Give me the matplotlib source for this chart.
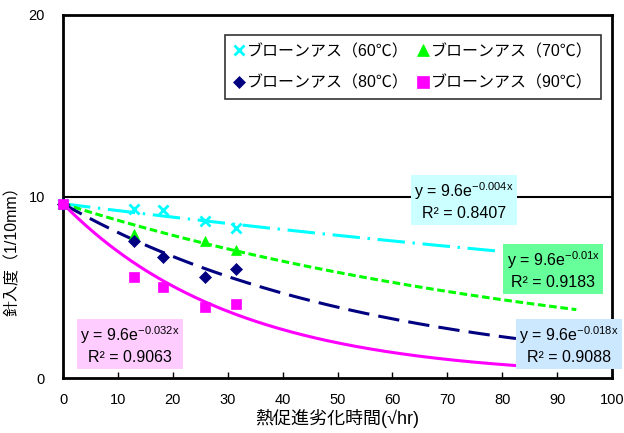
import numpy as np
import matplotlib
matplotlib.use("Agg")
import matplotlib.pyplot as plt

plt.rcParams['font.family'] = ['Liberation Sans', 'Noto Sans CJK JP', 'DejaVu Sans']
plt.rcParams['mathtext.fontset'] = 'custom'
plt.rcParams['mathtext.rm'] = 'Liberation Sans'
plt.rcParams['mathtext.it'] = 'Liberation Sans'
plt.rcParams['mathtext.default'] = 'rm'

# Data
x_sqrt_hr = [0, 13.0, 18.3, 25.9, 31.6]
y_60 = [9.6, 9.3, 9.25, 8.65, 8.28]
y_70 = [9.6, 7.92, np.nan, 7.55, 7.05]
y_80 = [9.6, 7.56, 6.68, 5.55, 6.0]
y_90 = [9.6, 5.58, 5.03, 3.93, 4.06]
series_labels = ['ブローンアス（60℃）', 'ブローンアス（70℃）', 'ブローンアス（80℃）', 'ブローンアス（90℃）']
trend_a = [9.6, 9.6, 9.6, 9.6]
trend_k = [0.004, 0.01, 0.018, 0.032]
trend_k_text = ['0.004', '0.01', '0.018', '0.032']
trend_r2 = ['0.8407', '0.9183', '0.9088', '0.9063']
trend_xend = [80, 93.5, 82.5, 85]

colors = ['#00FFFF', '#00FF00', '#000080', '#FF00FF']
markers = ['x', '^', 'D', 's']
msizes = [7, 7.5, 6, 7.5]
dashes = [(9, 2.5, 0.8, 2.5), (2.5, 1.2), (7, 3), None]
box_colors = ['#CCFFFF', '#66FF99', '#CCE8FF', '#FFCCFF']
label_pos = [(73, 9.75), (89.3, 5.95), (92.2, 1.82), (12.2, 1.82)]

fig = plt.figure(figsize=(6.24, 4.33), dpi=100)
ax = fig.add_axes([63/624, 55/433, 549/624, 363/433])

ys = [y_60, y_70, y_80, y_90]
handles = []
for i in range(4):
    xt = np.linspace(0, trend_xend[i], 300)
    yt = trend_a[i] * np.exp(-trend_k[i] * xt)
    ln, = ax.plot(xt, yt, color=colors[i], lw=2.2, zorder=2, solid_capstyle='butt')
    if dashes[i] is not None:
        ln.set_dashes(dashes[i])
    h, = ax.plot(x_sqrt_hr, ys[i], linestyle='none', marker=markers[i], color=colors[i],
                 markersize=msizes[i], markeredgewidth=2 if markers[i] == 'x' else 0.5,
                 label=series_labels[i], zorder=3, clip_on=False)
    handles.append(h)
    lx, ly = label_pos[i]
    ax.text(lx, ly, r'y = 9.6e$^{-' + trend_k_text[i] + r'x}$' + '\nR² = ' + trend_r2[i],
            ha='center', va='center', multialignment='center', fontsize=11.5,
            linespacing=1.35,
            bbox=dict(boxstyle='square,pad=0.2', fc=box_colors[i], ec='none'),
            zorder=5, clip_on=False)

ax.axhline(10, color='black', lw=1.5, zorder=1)

ax.set_xlim(0, 100)
ax.set_ylim(0, 20)
ax.set_xticks(np.arange(0, 101, 10))
ax.set_yticks([0, 10, 20])
ax.tick_params(axis='x', direction='in', length=4, width=1, pad=11, labelsize=10.5)
ax.tick_params(axis='y', direction='in', length=0, pad=13, labelsize=10.5)
for s in ax.spines.values():
    s.set_linewidth(2)

ax.set_xlabel('熱促進劣化時間(√hr)', fontsize=13, labelpad=1)
ax.set_ylabel('針入度（1/10mm）', fontsize=11.5)
ax.yaxis.set_label_coords(-0.078, 0.36)

order = [0, 2, 1, 3]
leg = ax.legend([handles[j] for j in order], [series_labels[j] for j in order],
                ncol=2, loc='upper left', bbox_to_anchor=(162/549, (378-35)/363),
                frameon=True, fancybox=False, edgecolor='black', fontsize=11.5,
                handlelength=0.6, handletextpad=0.2, columnspacing=0.6,
                borderpad=0.55, labelspacing=1.0, borderaxespad=0, markerscale=1.1)
leg.get_frame().set_linewidth(1.2)
leg.set_zorder(6)

fig.savefig('out.png', dpi=100)
